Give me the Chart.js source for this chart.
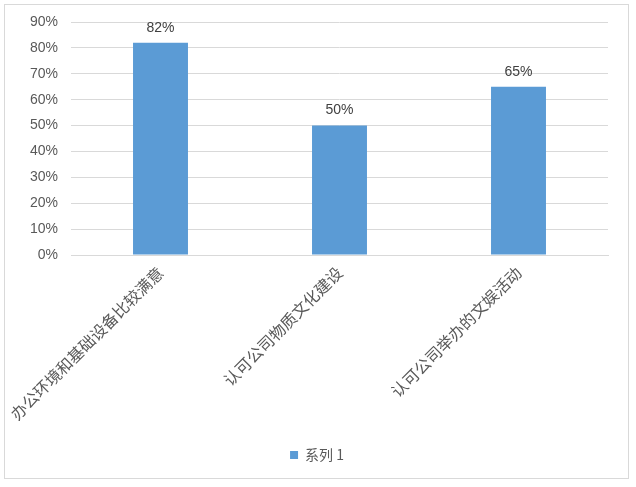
<!DOCTYPE html>
<html lang="zh">
<head>
<meta charset="UTF-8" />
<script src="https://cdn.jsdelivr.net/npm/chart.js@4.4.0/dist/chart.umd.min.js"></script>
<style>
  html, body { margin: 0; padding: 0; background: #fff; }
  #frame { position: absolute; left: 4px; top: 4px; width: 623px; height: 473px; border: 1px solid #d9d9d9; }
  #wrap { position: absolute; left: 0; top: 0; width: 636px; height: 487px; }
</style>
<title>满意度</title>
</head>
<body>
<div id="frame"></div>
<div id="wrap"><canvas id="chart" width="636" height="487"></canvas></div>
<script>
  const categories = ['办公环境和基础设备比较满意', '认可公司物质文化建设', '认可公司举办的文娱活动'];
  const seriesName = '系列 1';
  const seriesValues = [0.82, 0.50, 0.65];
  const yTicks = [0, 0.1, 0.2, 0.3, 0.4, 0.5, 0.6, 0.7, 0.8, 0.9];

  const pct = v => Math.round(v * 100) + '%';

  // labels above each bar
  const barLabels = {
    id: 'barLabels',
    afterDatasetsDraw(chart) {
      const ctx = chart.ctx;
      const meta = chart.getDatasetMeta(0);
      ctx.save();
      ctx.font = '14px "Liberation Sans", Arial, sans-serif';
      ctx.fillStyle = '#404040';
      ctx.textAlign = 'center';
      ctx.textBaseline = 'bottom';
      meta.data.forEach((bar, i) => {
        ctx.fillText(pct(seriesValues[i]), bar.x, bar.y - 8);
      });
      ctx.restore();
    }
  };

  const ctx = document.getElementById('chart').getContext('2d');
  const chart = new Chart(ctx, {
    type: 'bar',
    data: {
      labels: categories,
      datasets: [{
        label: seriesName,
        data: seriesValues,
        backgroundColor: '#5b9bd5',
        categoryPercentage: 1,
        barPercentage: 0.307
      }]
    },
    options: {
      responsive: false,
      animation: false,
      devicePixelRatio: 1,
      layout: { padding: { top: 22, right: 28, bottom: 15, left: 26 } },
      plugins: {
        tooltip: { enabled: false },
        legend: {
          position: 'bottom',
          labels: {
            boxWidth: 8,
            boxHeight: 8,
            color: '#595959',
            font: { size: 14, family: '"Noto Sans CJK SC", sans-serif' }
          }
        }
      },
      scales: {
        x: {
          grid: { display: false },
          border: { color: '#d9d9d9' },
          ticks: {
            maxRotation: 45,
            minRotation: 45,
            padding: 0,
            color: '#595959',
            font: { size: 16, family: '"Noto Sans CJK SC", sans-serif' }
          },
          afterFit(scale) { scale.height = 183; }
        },
        y: {
          min: 0,
          max: 0.9,
          afterBuildTicks(scale) { scale.ticks = yTicks.map(v => ({ value: v })); },
          grid: { color: '#d9d9d9', drawTicks: false },
          border: { display: false },
          ticks: {
            padding: 13,
            color: '#595959',
            font: { size: 14, family: '"Liberation Sans", Arial, sans-serif' },
            callback: v => pct(v)
          },
          afterFit(scale) { scale.width = 45; }
        }
      }
    },
    plugins: [barLabels]
  });
</script>
</body>
</html>
